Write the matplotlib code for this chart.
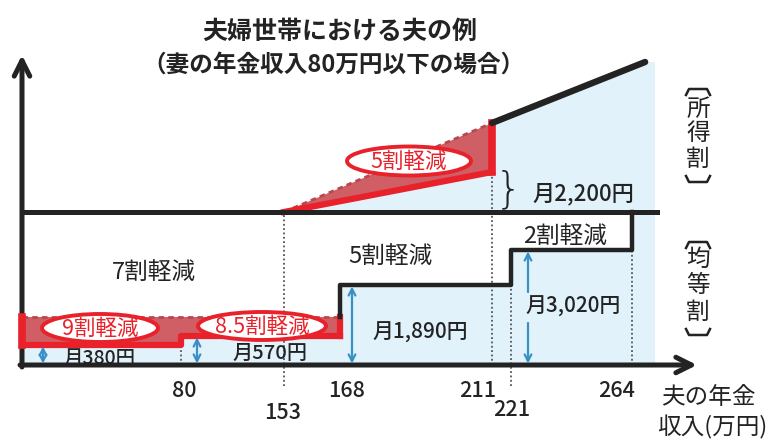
import numpy as np
import matplotlib
matplotlib.use("Agg")
from matplotlib import pyplot as plt, patches, transforms as mtransforms

plt.rcParams['font.family'] = ['Noto Sans CJK JP', 'DejaVu Sans']

# ---- data: income in 万円, premiums in yen per month ----
income_ticks = [80, 153, 168, 211, 221, 264]
kinto_edges = [0, 80, 168, 221, 264]        # 均等割 brackets
kinto_pay = [380, 570, 1890, 3020]          # monthly payment in each bracket
kinto_full = 3780                           # 均等割 without reduction
kinto_7wari = 1134                          # level after 7割軽減
shotoku_x = [153, 211, 270]                 # 所得割 line
shotoku_full = [0, 4400, 7400]
shotoku_half = 2200                         # after 5割軽減 at 211
pay_labels = ['月380円', '月570円', '月1,890円', '月3,020円']

# ---- layout: the chart is schematic, so the scales are piecewise ----
W, H = 781, 440
X_KNOTS = [-10, 0, 80, 153, 168, 211, 221, 264, 280, 340]
X_PIX = [0, 22, 181, 284, 340, 492, 511, 632, 667, 781]
Y_KNOTS = [-2000, 0, 380, 570, 1134, 1890, 3020, 3780, 5980, 8180, 11180, 16000]
Y_PIX = [0, 75, 95, 104, 123, 155, 190, 228, 268, 317, 378, 440]
blue_right = 274.5
mid_right = 275.5
below = -550

INK = '#232323'
RED = '#e8212b'
ROSE = '#cf5e65'
SKY = '#e1f2fa'
BLUE = '#3b8fc7'

fig = plt.figure(figsize=(W / 100, H / 100), dpi=100)
ax = fig.add_axes([0, 0, 1, 1])
ax.set_xscale('function', functions=(lambda v: np.interp(v, X_KNOTS, X_PIX),
                                     lambda p: np.interp(p, X_PIX, X_KNOTS)))
ax.set_yscale('function', functions=(lambda v: np.interp(v, Y_KNOTS, Y_PIX),
                                     lambda p: np.interp(p, Y_PIX, Y_KNOTS)))
ax.set_xlim(X_KNOTS[0], X_KNOTS[-1])
ax.set_ylim(Y_KNOTS[0], Y_KNOTS[-1])
ax.set_axis_off()

# picture pixels (origin top left) for the annotations
pix = mtransforms.Affine2D().scale(1 / W, -1 / H).translate(0, 1) + fig.transFigure

K = kinto_full
top = [K + v for v in shotoku_full]

# light blue: what is actually paid
ax.fill_between(kinto_edges + [blue_right], 0, kinto_pay + [K, K],
                step='post', color=SKY, lw=0, zorder=1)
ax.fill([shotoku_x[0], shotoku_x[1], shotoku_x[1], shotoku_x[2], blue_right, blue_right],
        [K, K + shotoku_half, top[1], top[2], top[2], K],
        color=SKY, lw=0, zorder=1)

# red band: extra reduction below the 7割 level
band_y = kinto_pay[:2] + [kinto_pay[1]]
ax.fill_between(kinto_edges[:3], band_y, kinto_7wari, step='post',
                color=ROSE, lw=0, zorder=2)
ax.step(kinto_edges[:3], band_y, where='post', color=RED, lw=4.5, zorder=4)
ax.plot([kinto_edges[2]] * 2, [kinto_pay[1], kinto_7wari], color=RED, lw=4.5, zorder=4)
ax.plot([0, 0], [kinto_pay[0], kinto_7wari], color=RED, lw=5.5, zorder=4)
ax.plot([0, kinto_edges[2]], [kinto_7wari] * 2, color='#b8474f', lw=2,
        ls=(0, (2, 1.5)), zorder=3)

# red triangle: 5割軽減 of 所得割
ax.fill([shotoku_x[0], shotoku_x[1], shotoku_x[1]], [K, top[1], K + shotoku_half],
        color=ROSE, lw=0, zorder=2)
ax.plot([shotoku_x[0], shotoku_x[1]], [K, top[1]], color='#b8474f', lw=2,
        ls=(0, (2, 1.5)), zorder=3)
ax.plot([shotoku_x[0], shotoku_x[1]], [K, K + shotoku_half], color=RED, lw=4.5, zorder=4)
ax.plot([shotoku_x[1]] * 2, [K + shotoku_half, top[1]], color=RED, lw=5.5, zorder=4)

# dotted guides
guides = [(80, 0, kinto_pay[0]), (153, below, K), (211, 0, K + shotoku_half),
          (221, below, kinto_pay[3]), (264, 0, kinto_pay[3])]
for gx, y0, y1 in guides:
    ax.plot([gx, gx], [y0, y1], color='#555555', lw=1.3, ls=(0, (1, 1.4)), zorder=3)

# black lines
step_x = np.repeat(kinto_edges[2:], 2)
step_y = [kinto_7wari] + np.repeat(kinto_pay[2:], 2).tolist() + [K]
ax.plot(step_x, step_y, color=INK, lw=3.2, zorder=5)
ax.plot([0, mid_right], [K, K], color=INK, lw=3.6, zorder=5)
ax.plot(shotoku_x[1:], top[1:], color=INK, lw=4.6, solid_capstyle='round', zorder=5)

# frame arrows
arrow = dict(arrowstyle='->', lw=3.6, color=INK, mutation_scale=28,
             shrinkA=0, shrinkB=0)
ax.annotate('', xy=(697, 365), xytext=(20, 365), xycoords=pix, textcoords=pix,
            arrowprops=arrow, zorder=3)
ax.annotate('', xy=(22, 55), xytext=(22, 367), xycoords=pix, textcoords=pix,
            arrowprops=arrow, zorder=3)

# blue amount arrows
barrow = dict(arrowstyle='<->', lw=1.6, color=BLUE, mutation_scale=12,
              shrinkA=1, shrinkB=1)
for bx, v in zip([43, 197, 352], kinto_pay[:3]):
    ax.annotate('', xy=(bx, v), xytext=(bx, 0), xycoords=('figure pixels', 'data'),
                textcoords=('figure pixels', 'data'), arrowprops=barrow, zorder=6)
one = dict(arrowstyle='->', lw=1.6, color=BLUE, mutation_scale=12, shrinkA=0, shrinkB=1)
ax.annotate('', xy=(528, kinto_pay[3]), xytext=(528, H - 292),
            xycoords=('figure pixels', 'data'), textcoords='figure pixels',
            arrowprops=one, zorder=6)
ax.annotate('', xy=(528, 0), xytext=(528, H - 323),
            xycoords=('figure pixels', 'data'), textcoords='figure pixels',
            arrowprops=one, zorder=6)

# red ovals
ovals = [('9割軽減', 100, 328, 116, 28), ('8.5割軽減', 262, 326, 128, 28),
         ('5割軽減', 409, 161, 124, 29)]
for txt, cx, cy, w, h in ovals:
    ax.add_patch(patches.Ellipse((cx, cy), w, h, transform=pix, facecolor='white',
                                 edgecolor=RED, lw=2.8, zorder=7))
    ax.text(cx, cy + 1, txt, transform=pix, ha='center', va='center', color=RED,
            fontsize=15.5, zorder=8)

# texts
def put(x, y, s, size=15, **kw):
    kw.setdefault('color', INK)
    ax.text(x, y, s, transform=pix, ha='center', va='center', fontsize=size,
            zorder=9, **kw)

put(340, 32, '夫婦世帯における夫の例', 18, fontweight='bold')
put(333, 65, '（妻の年金収入80万円以下の場合）', 17, fontweight='bold')
put(154, 272, '7割軽減', 17)
put(390, 256, '5割軽減', 17)
put(565, 236, '2割軽減', 17)

for s, (tx, ty, size) in zip(pay_labels, [(100, 358, 14), (270, 353, 14.5),
                                          (420, 333, 15), (573, 307, 15)]):
    put(tx, ty, s, size, fontweight='medium')
put(583, 194, '月2,200円', 16, fontweight='medium')
put(508, 190, '}', 31, family='DejaVu Sans', fontweight='light')

tick_pos = [(184, 391), (283, 413), (347, 391), (478, 391), (512, 410), (617, 391)]
for t, (tx, ty) in zip(income_ticks, tick_pos):
    put(tx, ty, str(t), 15.5, fontweight='medium')
put(708, 397, '夫の年金', 17)
put(712, 427, '収入(万円)', 17)

# vertical side labels with brackets
for chars, ys, (b0, b1) in [('所得割', [109, 133, 159], (89, 182)),
                            ('均等割', [259, 285, 312], (242, 335))]:
    for ch, cy in zip(chars, ys):
        put(698, cy, ch, 17)
    ax.plot([686, 689, 707, 710], [b0 + 6, b0, b0, b0 + 6], transform=pix,
            color=INK, lw=1.8, zorder=9)
    ax.plot([686, 689, 707, 710], [b1 - 6, b1, b1, b1 - 6], transform=pix,
            color=INK, lw=1.8, zorder=9)

fig.savefig('out.png', dpi=100)
